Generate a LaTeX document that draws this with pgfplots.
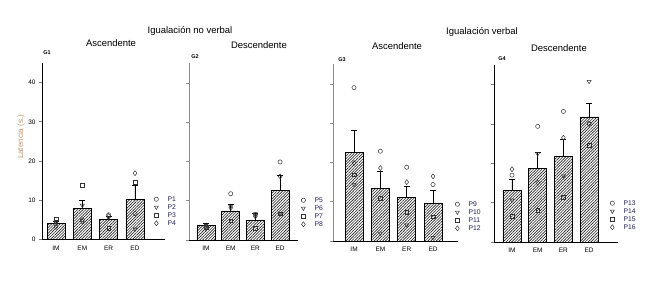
\documentclass[border=0pt]{standalone}
\usepackage{fontspec}
\setmainfont{Liberation Sans}
\usepackage{pgfplots}
\pgfplotsset{compat=1.18}
\usepackage{pgfplotstable}
\usetikzlibrary{patterns.meta}

\definecolor{leg}{RGB}{30,30,90}
\definecolor{ylab}{RGB}{200,150,110}

\pgfplotstableread{
x bar err a b c d
0 4.2 0.5 4.0 4.5 5.3 3.2
1 8.0 2.0 5.0 8.7 13.9 4.6
2 5.2 0.6 6.3 5.5 2.9 6.0
3 10.3 3.5 6.6 2.7 14.6 16.9
}\gone
\pgfplotstableread{
x bar err a b c d
0 3.6 0.6 3.5 3.8 3.3 3.0
1 7.4 1.6 11.8 8.5 4.9 8.2
2 4.9 1.8 6.5 6.6 3.0 6.0
3 12.6 3.8 19.9 6.8 6.7 16.2
}\gtwo
\pgfplotstableread{
x bar err a b c d
0 22.5 5.8 39.1 14.4 16.9 19.9
1 13.5 4.3 22.9 2.0 10.9 18.6
2 11.2 2.7 18.8 4.1 7.3 15.0
3 9.5 3.4 14.4 0.9 6.2 16.5
}\gthree
\pgfplotstableread{
x bar err a b c d
0 13.1 2.9 17.0 10.7 6.6 18.5
1 18.7 4.1 29.4 22.4 8.0 15.1
2 21.8 4.4 33.2 16.8 11.3 26.5
3 31.8 3.4 30.1 40.8 24.5 30.0
}\gfour

\pgfplotsset{
 panel/.style={
  scale only axis, anchor=south west,
  ymin=0, ymax=45,
  axis x line*=bottom, axis y line*=left,
  axis line style={line width=0.9bp, -},
  ytick={0,10,20,30,40},
  xtick={0,1,2,3}, xticklabels={IM,EM,ER,ED},
  xtick style={draw=none},
  ytick style={line width=0.7bp},
  tick align=outside, major tick length=3bp,
  tick label style={font=\fontsize{6.5}{7}\selectfont},
  /pgf/number format/assume math mode=true,
  clip=false,
  legend style={draw=none, fill=none, anchor=north west,
    font=\fontsize{6.8}{7}\selectfont, text=leg, row sep=0pt, inner sep=0pt,
    nodes={inner sep=1bp, text height=5bp, text depth=1bp}},
  legend cell align=left,
  legend image code/.code={\path (-4bp,0bp) (10bp,0bp); \draw[mark repeat=2,mark phase=2,##1] plot coordinates {(-4bp,0bp)(0bp,0bp)(4bp,0bp)};},
 },
 barst/.style={ybar, bar width=18bp, draw=black, line width=0.8bp, fill=white,
   postaction={pattern={Lines[angle=45,distance=2bp,line width=0.65bp]}, pattern color=black!85},
   error bars/y dir=plus, error bars/y explicit,
   error bars/error mark=-,
   error bars/error bar style={line width=0.8bp, black},
   error bars/error mark options={rotate=90, line width=0.8bp, mark size=3bp, black}},
 pa/.style={only marks, mark=o, mark size=2.1bp, black!80, mark options={line width=0.5bp}},
 pb/.style={only marks, mark=triangle, mark size=2.3bp, black!80, mark options={line width=0.5bp, rotate=180}},
 pc/.style={only marks, mark=square, mark size=1.9bp, black!80, mark options={line width=0.5bp}},
 pd/.style={only marks, mark=diamond, mark size=2.5bp, black!80, mark options={line width=0.5bp}},
}

\begin{document}
\begin{tikzpicture}
\path[use as bounding box] (0,0) rectangle (658bp,287bp);

% Panel G1
\begin{axis}[panel, at={(42bp,47.5bp)}, width=123bp, height=176.5bp,
  xmin=-0.532, xmax=4.14,
  legend style={at={(0.894,0.252)}}]
\addplot[forget plot, barst] table[x=x, y=bar, y error=err] {\gone};
\addplot[pa] table[x=x, y=a] {\gone}; \addlegendentry{P1}
\addplot[pb] table[x=x, y=b] {\gone}; \addlegendentry{P2}
\addplot[pc] table[x=x, y=c] {\gone}; \addlegendentry{P3}
\addplot[pd] table[x=x, y=d] {\gone}; \addlegendentry{P4}
\end{axis}

% Panel G2
\begin{axis}[panel, at={(189bp,47bp)}, width=109bp, height=176.5bp,
  xmin=-0.688, xmax=3.725, yticklabels={},
  y axis line style={black!45}, ytick style={black!45},
  legend style={at={(1.009,0.249)}}]
\addplot[forget plot, barst] table[x=x, y=bar, y error=err] {\gtwo};
\addplot[pa] table[x=x, y=a] {\gtwo}; \addlegendentry{P5}
\addplot[pb] table[x=x, y=b] {\gtwo}; \addlegendentry{P6}
\addplot[pc] table[x=x, y=c] {\gtwo}; \addlegendentry{P7}
\addplot[pd] table[x=x, y=d] {\gtwo}; \addlegendentry{P8}
\end{axis}

% Panel G3
\begin{axis}[panel, at={(333bp,46bp)}, width=125bp, height=176.5bp,
  xmin=-0.8, xmax=3.95, yticklabels={},
  y axis line style={black!45}, ytick style={black!45},
  legend style={at={(0.96,0.232)}}]
\addplot[forget plot, barst] table[x=x, y=bar, y error=err] {\gthree};
\addplot[pa] table[x=x, y=a] {\gthree}; \addlegendentry{P9}
\addplot[pb] table[x=x, y=b] {\gthree}; \addlegendentry{P10}
\addplot[pc] table[x=x, y=c] {\gthree}; \addlegendentry{P11}
\addplot[pd] table[x=x, y=d] {\gthree}; \addlegendentry{P12}
\end{axis}

% Panel G4
\begin{axis}[panel, at={(494bp,45bp)}, width=124bp, height=177bp,
  xmin=-0.70, xmax=4.125, yticklabels={},
  legend style={at={(0.919,0.243)}}]
\addplot[forget plot, barst] table[x=x, y=bar, y error=err] {\gfour};
\addplot[pa] table[x=x, y=a] {\gfour}; \addlegendentry{P13}
\addplot[pb] table[x=x, y=b] {\gfour}; \addlegendentry{P14}
\addplot[pc] table[x=x, y=c] {\gfour}; \addlegendentry{P15}
\addplot[pd] table[x=x, y=d] {\gfour}; \addlegendentry{P16}
\end{axis}

% Titles
\node[font=\fontsize{9.5}{11}\selectfont] at (190bp,256bp) {Igualación no verbal};
\node[font=\fontsize{9.5}{11}\selectfont] at (482bp,255bp) {Igualación verbal};
\node[font=\fontsize{9.5}{11}\selectfont] at (111bp,244bp) {Ascendente};
\node[font=\fontsize{9.5}{11}\selectfont] at (259bp,242bp) {Descendente};
\node[font=\fontsize{9.5}{11}\selectfont] at (397bp,241bp) {Ascendente};
\node[font=\fontsize{9.5}{11}\selectfont] at (559bp,239bp) {Descendente};
\node[font=\bfseries\fontsize{5.5}{6}\selectfont] at (47bp,234bp) {G1};
\node[font=\bfseries\fontsize{5.5}{6}\selectfont] at (195bp,230bp) {G2};
\node[font=\bfseries\fontsize{5.5}{6}\selectfont] at (342bp,227bp) {G3};
\node[font=\bfseries\fontsize{5.5}{6}\selectfont] at (502bp,228bp) {G4};
\node[rotate=90, font=\fontsize{8}{9}\selectfont, text=ylab] at (21bp,150bp) {Latencia (s.)};
\end{tikzpicture}
\end{document}
